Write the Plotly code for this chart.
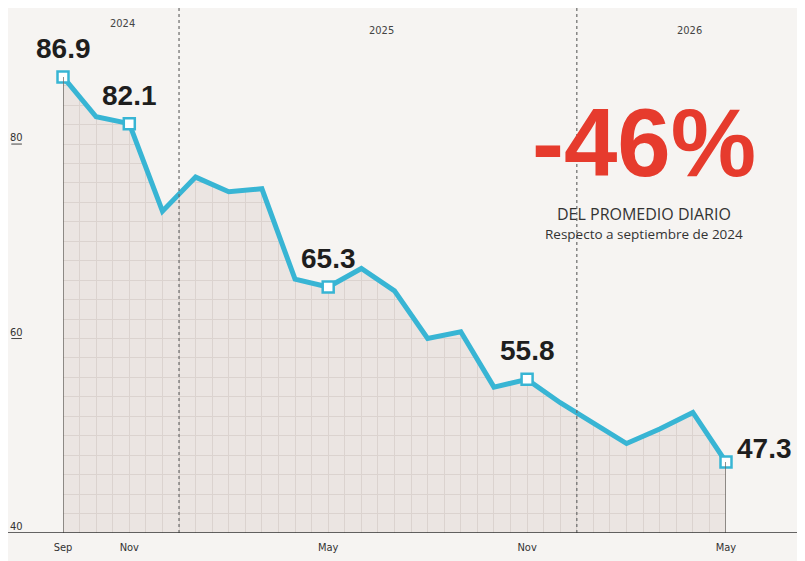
import plotly.graph_objects as go

# monthly daily-average values, Sep 2024 .. May 2026
months = ["Sep", "Oct", "Nov", "Dec", "Jan", "Feb", "Mar", "Apr", "May", "Jun", "Jul",
          "Aug", "Sep", "Oct", "Nov", "Dec", "Jan", "Feb", "Mar", "Apr", "May"]
values = [86.9, 82.8, 82.1, 73.1, 76.6, 75.1, 75.4, 66.1, 65.3, 67.2, 64.9,
          60.0, 60.7, 55.0, 55.8, 53.4, 51.3, 49.2, 50.7, 52.4, 47.3]
labelled = [0, 2, 8, 14, 20]          # points with a boxed marker and value label
tick_idx = [0, 2, 8, 14, 20]
years = ["2024", "2025", "2026"]
year_breaks = [3.5, 15.5]
y_ticks = [80, 60, 40]

PAPER = "#f6f4f2"
FILL = "#ebe5e2"
GRID = "#dbd3cf"
BLUE = "#38b5d4"
RED = "#e63b2d"
ymin, ymax = 40, 90.7
x = list(range(len(values)))

fig = go.Figure()
# cover the grid above the line with paper colour
fig.add_trace(go.Scatter(x=x, y=[ymax] * len(x), mode="lines",
                         line=dict(width=0), hoverinfo="skip", showlegend=False))
fig.add_trace(go.Scatter(x=x, y=values, mode="lines", fill="tonexty",
                         fillcolor=PAPER, line=dict(color=BLUE, width=5),
                         cliponaxis=False, showlegend=False))
fig.add_trace(go.Scatter(x=[x[i] for i in labelled], y=[values[i] for i in labelled],
                         mode="markers", cliponaxis=False, showlegend=False,
                         marker=dict(symbol="square", size=11, color="white",
                                     line=dict(color=BLUE, width=2.5))))

num_font = dict(family="Liberation Sans, Arial", size=28, color="#1e1e1e")
for i in labelled[:-1]:
    fig.add_annotation(x=x[i], y=values[i], text="<b>%.1f</b>" % values[i],
                       showarrow=False, yanchor="bottom", yshift=11, font=num_font)
fig.add_annotation(x=x[-1], y=values[-1], text="<b>%.1f</b>" % values[-1],
                   showarrow=False, xanchor="left", yanchor="middle",
                   xshift=9, yshift=14, font=num_font)

# edge verticals of the filled area
for i in (0, len(x) - 1):
    fig.add_shape(type="line", x0=x[i], x1=x[i], y0=ymin, y1=values[i],
                  line=dict(color="#6e6a66", width=1.5), layer="above")

# year dividers
for b in year_breaks:
    fig.add_shape(type="line", x0=b, x1=b, yref="paper", y0=0, y1=1.07,
                  line=dict(color="#6a6a6a", width=1.2, dash="dot"))
year_pos = [(1.8, 1.051), (9.6, 1.036), (18.9, 1.036)]
for t, (px, py) in zip(years, year_pos):
    fig.add_annotation(x=px, yref="paper", y=py, text=t, showarrow=False,
                       font=dict(family="DejaVu Sans Condensed", size=11, color="#444"))

# baseline across the whole width
fig.add_shape(type="line", xref="paper", x0=-0.09, x1=1.13, y0=ymin, y1=ymin,
              line=dict(color="#333", width=1.5))

# y tick labels on the left margin
for v in y_ticks:
    fig.add_annotation(xref="paper", x=-0.07, y=v, text=str(v), showarrow=False,
                       yanchor="bottom", xanchor="center", yshift=-2,
                       font=dict(family="DejaVu Sans Condensed", size=11, color="#333"))
    if v != ymin:
        fig.add_shape(type="line", xref="paper", x0=-0.078, x1=-0.062, y0=v, y1=v,
                      line=dict(color="#444", width=1))

# headline
fig.add_annotation(xref="paper", yref="paper", x=0.877, y=0.793, xanchor="center",
                   yanchor="middle", text="<b>-46%</b>", showarrow=False,
                   font=dict(family="Liberation Sans, Arial", size=96, color=RED))
fig.add_annotation(xref="paper", yref="paper", x=0.877, y=0.647, xanchor="center",
                   text="DEL PROMEDIO DIARIO", showarrow=False,
                   font=dict(family="Open Sans", size=16, color="#333"))
fig.add_annotation(xref="paper", yref="paper", x=0.877, y=0.606, xanchor="center",
                   text="Respecto a septiembre de 2024", showarrow=False,
                   font=dict(family="Open Sans", size=13.5, color="#333"))

fig.update_xaxes(range=[0, 20], tickvals=tick_idx, ticktext=[months[i] for i in tick_idx],
                 showgrid=True, gridcolor=GRID, gridwidth=1, automargin=False,
                 tickmode="array", ticks="", showline=False, zeroline=False,
                 ticklabelstandoff=6,
                 tickfont=dict(family="DejaVu Sans Condensed", size=11, color="#333"))
fig.update_xaxes(minor=dict(dtick=0.5, showgrid=True, gridcolor=GRID, tick0=0))
fig.update_yaxes(range=[ymin, ymax], showgrid=True, gridcolor=GRID, dtick=2,
                 showticklabels=False, zeroline=False, showline=False, automargin=False)

# page body adds an 8px margin, so the figure is sized to the visible area
fig.update_layout(width=797, height=553, margin=dict(l=55, r=79, t=32, b=28),
                  paper_bgcolor=PAPER, plot_bgcolor=FILL, showlegend=False)

fig.write_html("out.html")
